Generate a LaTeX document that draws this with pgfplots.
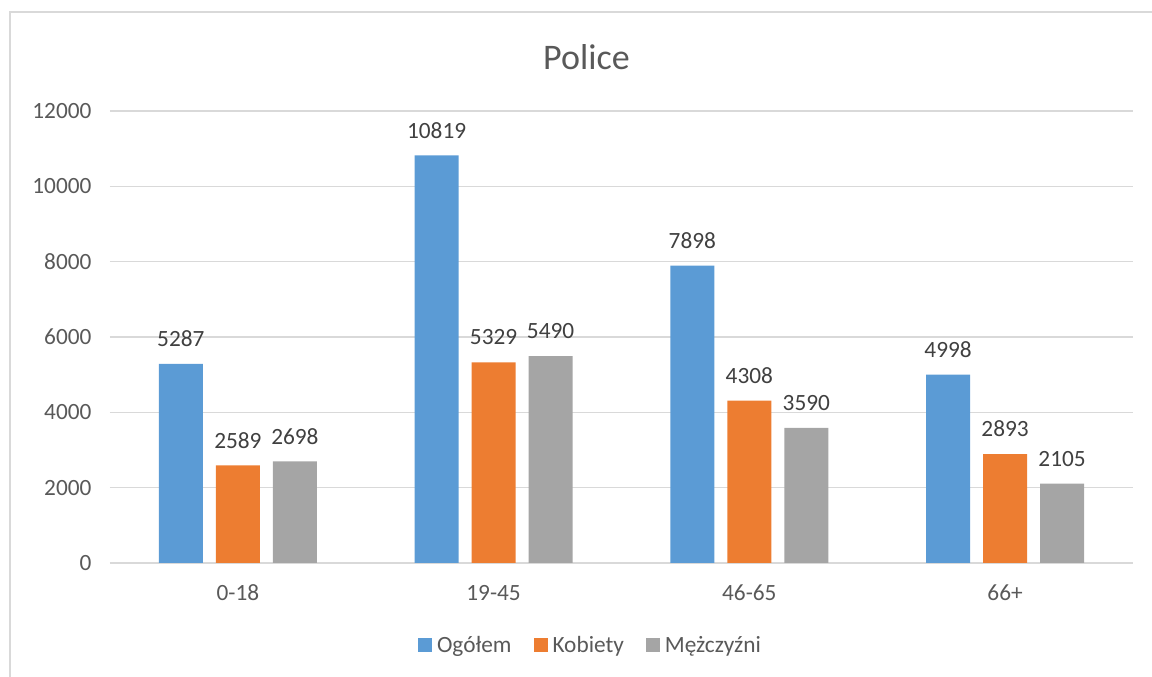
\documentclass[border=0pt]{standalone}
\usepackage{pgfplots}
\pgfplotsset{compat=1.18}
\usepackage{fontspec}
\setmainfont{Carlito}
\definecolor{cblue}{HTML}{5B9BD5}
\definecolor{corange}{HTML}{ED7D31}
\definecolor{cgray}{HTML}{A5A5A5}
\definecolor{gridc}{HTML}{D9D9D9}
\definecolor{txt}{HTML}{595959}
\definecolor{lbl}{HTML}{404040}
\newcommand{\fs}{\fontsize{23.3pt}{28pt}\selectfont}
\pgfplotsset{/pgf/number format/assume math mode=true, /pgf/number format/1000 sep={}}
\begin{document}
\begin{tikzpicture}
\useasboundingbox (0,0) rectangle (1152pt,677pt);
\draw[gridc, line width=1.3pt] (10pt,0) -- (10pt,665pt) -- (1152pt,665pt);
\node[txt, font=\fontsize{36pt}{43pt}\selectfont] at (586.5pt,620pt) {Police};
\begin{axis}[
    at={(110pt,114pt)}, anchor=south west,
    scale only axis, width=1023pt, height=452pt,
    ybar=13pt, bar width=44pt,
    xmin=-0.5, xmax=3.5, ymin=0, ymax=12000,
    xtick={0,1,2,3}, xticklabels={0-18,19-45,46-65,66+},
    ytick={0,2000,...,12000},
    scaled y ticks=false,
    axis line style={draw=none},
    major tick length=0pt,
    ymajorgrids, grid style={gridc, line width=1.3pt},
    tick label style={font=\fs, text=txt},
    xticklabel style={anchor=center, yshift=-30pt},
    yticklabel style={anchor=east, xshift=-15pt},
    nodes near coords,
    every node near coord/.append style={font=\fs, text=lbl, anchor=south, inner sep=0pt, yshift=17pt},
    legend columns=3,
    legend style={draw=none, fill=none, font=\fs, text=txt,
        at={(axis description cs:0.4697,-0.181)}, anchor=center,
        /tikz/every odd column/.append style={column sep=3pt},
        /tikz/every even column/.append style={column sep=20pt}},
    legend image code/.code={\fill[#1, draw=none] (0pt,-7pt) rectangle (14pt,7pt);},
  ]
\addplot[fill=cblue, draw=none] coordinates {(0,5287) (1,10819) (2,7898) (3,4998)};
\addplot[fill=corange, draw=none] coordinates {(0,2589) (1,5329) (2,4308) (3,2893)};
\addplot[fill=cgray, draw=none] coordinates {(0,2698) (1,5490) (2,3590) (3,2105)};
\legend{Ogółem, Kobiety, Mężczyźni}
\end{axis}
\end{tikzpicture}
\end{document}
